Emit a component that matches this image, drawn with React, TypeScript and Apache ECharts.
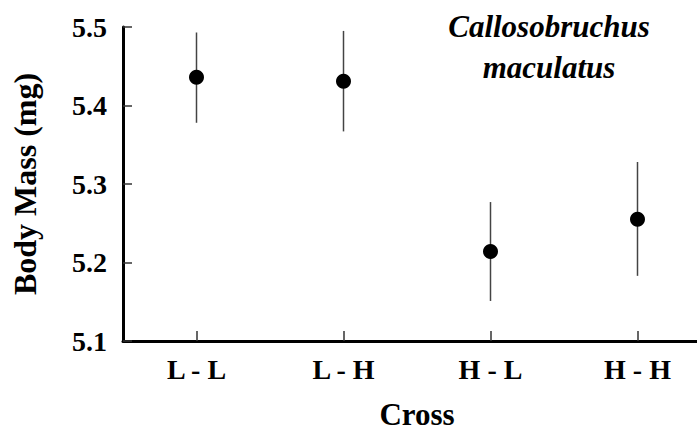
import React, { useEffect, useRef } from "react";
import * as echarts from "echarts";

const categories = ["L - L", "L - H", "H - L", "H - H"];
const means = [5.436, 5.431, 5.214, 5.255];
const lower = [5.378, 5.367, 5.151, 5.183];
const upper = [5.493, 5.495, 5.277, 5.328];
const yTicks = [5.1, 5.2, 5.3, 5.4, 5.5];

const FONT = "Liberation Serif";

export default function App() {
  const ref = useRef<HTMLDivElement>(null);
  useEffect(() => {
    document.body.style.margin = "0";
    const chart = echarts.init(ref.current!, null, { renderer: "svg" });
    const errData = categories.map((c, i) => [i, lower[i], upper[i]]);
    chart.setOption({
      animation: false,
      backgroundColor: "#fff",
      grid: { left: 123, right: -14, top: 27, bottom: 94, containLabel: false, outerBoundsMode: "none" },
      xAxis: {
        type: "category",
        data: categories,
        boundaryGap: true,
        axisLine: { show: true, onZero: false, lineStyle: { color: "#000", width: 3, opacity: 1, type: "solid" } },
        axisTick: { show: true, alignWithLabel: true, inside: true, length: 10, lineStyle: { color: "#333", width: 1.5 } },
        axisLabel: { color: "#000", fontFamily: FONT, fontWeight: "bold", fontSize: 28, margin: 14 },
        name: "Cross",
        nameLocation: "middle",
        nameGap: 58,
        nameTextStyle: { color: "#000", fontFamily: FONT, fontWeight: "bold", fontSize: 31, lineHeight: 31 },
        splitLine: { show: false },
      },
      yAxis: {
        type: "value",
        min: yTicks[0],
        max: yTicks[yTicks.length - 1],
        interval: 0.1,
        axisLine: { show: true, onZero: false, lineStyle: { color: "#000", width: 3, opacity: 1, type: "solid" } },
        axisTick: { show: true, inside: true, length: 9, lineStyle: { color: "#333", width: 1.5 } },
        axisLabel: {
          color: "#000",
          fontFamily: FONT,
          fontWeight: "bold",
          fontSize: 28,
          margin: 16,
          formatter: (v: number) => v.toFixed(1),
        },
        splitLine: { show: false },
        name: "Body Mass (mg)",
        nameLocation: "middle",
        nameGap: 82,
        nameRotate: 90,
        nameTextStyle: { color: "#000", fontFamily: FONT, fontWeight: "bold", fontSize: 32 },
      },
      graphic: [
        {
          type: "text",
          x: 549,
          y: 6,
          style: {
            text: "Callosobruchus\nmaculatus",
            textAlign: "center",
            textVerticalAlign: "top",
            fontFamily: FONT,
            fontStyle: "italic",
            fontWeight: "bold",
            fontSize: 31,
            lineHeight: 41,
            fill: "#000",
          },
        },
      ],
      series: [
        {
          type: "custom",
          data: errData,
          z: 1,
          renderItem: (params: any, api: any) => {
            const x = api.value(0);
            const lo = api.coord([x, api.value(1)]);
            const hi = api.coord([x, api.value(2)]);
            return {
              type: "line",
              shape: { x1: lo[0], y1: lo[1], x2: hi[0], y2: hi[1] },
              style: { stroke: "#444", lineWidth: 1.5 },
            };
          },
        },
        {
          type: "scatter",
          data: means.map((m, i) => [i, m]),
          symbol: "circle",
          symbolSize: 15,
          z: 3,
          itemStyle: { color: "#000", opacity: 1 },
          emphasis: { disabled: true },
        },
      ],
    });
    return () => chart.dispose();
  }, []);
  return <div ref={ref} style={{ width: 697, height: 435 }} />;
}
